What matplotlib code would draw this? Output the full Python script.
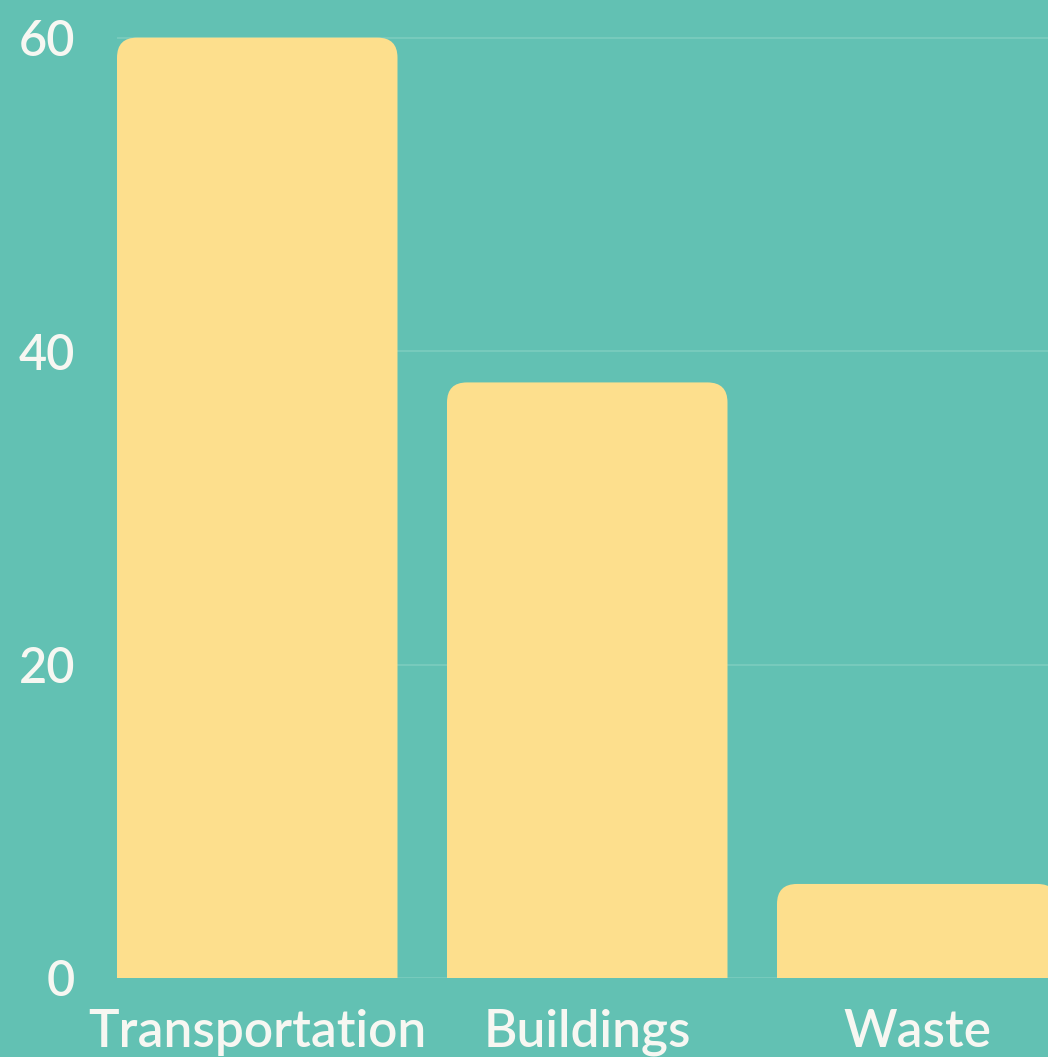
import matplotlib.pyplot as plt
from matplotlib.patches import FancyBboxPatch

# Data
categories = ['Transportation', 'Buildings', 'Waste']
values = [60, 38, 6]
yticks = [0, 20, 40, 60]

bg = '#62C1B3'
bar_color = '#FDDF8D'
text_color = '#F7F7F2'
grid_color = '#7ACBBE'

plt.rcParams['font.family'] = ['Lato', 'DejaVu Sans']

fig = plt.figure(figsize=(10.48, 10.57), dpi=100)
fig.patch.set_facecolor(bg)
ax = fig.add_axes([117/1048, 79/1057, (1048-117)/1048, 978/1057])
ax.set_facecolor(bg)

width = 0.85
ax.set_xlim(-width/2, -width/2 + (1048-117)/330)
ax.set_ylim(0, 62.4)

# Rounded top corners: compute aspect so the corners look round in pixels
ax_w = fig.get_figwidth()*fig.dpi*ax.get_position().width
ax_h = fig.get_figheight()*fig.dpi*ax.get_position().height
x_per_px = (ax.get_xlim()[1] - ax.get_xlim()[0]) / ax_w
y_per_px = (ax.get_ylim()[1] - ax.get_ylim()[0]) / ax_h
aspect = y_per_px / x_per_px
radius = 20 * x_per_px

for i, v in enumerate(values):
    # extend below zero so the bottom corners are clipped away
    patch = FancyBboxPatch((i - width/2, -3), width, v + 3,
                           boxstyle='round,pad=0,rounding_size=%f' % radius,
                           mutation_aspect=aspect,
                           facecolor=bar_color, edgecolor='none', zorder=3)
    ax.add_patch(patch)

ax.set_yticks(yticks)
ax.set_yticklabels([str(t) for t in yticks], fontweight='semibold')
ax.set_xticks(range(len(categories)))
ax.set_xticklabels(categories, fontweight='semibold')
ax.tick_params(axis='y', length=0, pad=30, labelsize=35, labelcolor=text_color)
ax.tick_params(axis='x', length=0, pad=22, labelsize=37, labelcolor=text_color)

ax.grid(axis='y', color=grid_color, linewidth=1.3, zorder=0)
ax.set_axisbelow(True)
for s in ax.spines.values():
    s.set_visible(False)

fig.savefig('out.png', dpi=100, facecolor=bg)
